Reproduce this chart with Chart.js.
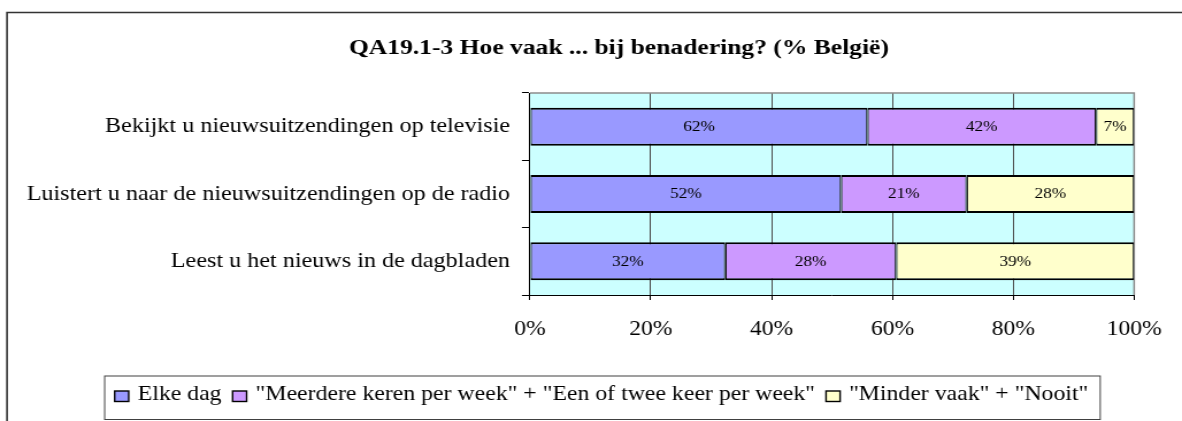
<!DOCTYPE html>
<html><head><meta charset="utf-8">
<script src="https://cdn.jsdelivr.net/npm/chart.js@4.4.1/dist/chart.umd.min.js"></script>
<style>
html,body{margin:0;padding:0;background:#fff;overflow:hidden;width:1182px;height:421px;}
#wrap{width:1028px;height:421px;transform:scaleX(1.14981);transform-origin:0 0;}
canvas{display:block;}
</style></head><body>
<div id="wrap"><canvas id="c" width="1028" height="421"></canvas></div>
<script>
// ---- data ----
const chartTitle = 'QA19.1-3 Hoe vaak ... bij benadering? (% België)';
const categories = [
  'Bekijkt u nieuwsuitzendingen op televisie',
  'Luistert u naar de nieuwsuitzendingen op de radio',
  'Leest u het nieuws in de dagbladen'
];
const seriesNames = [
  'Elke dag',
  '"Meerdere keren per week" + "Een of twee keer per week"',
  '"Minder vaak" + "Nooit"'
];
const elkeDag   = [62, 52, 32];
const wekelijks = [42, 21, 28];
const minder    = [7, 28, 39];
const xTicks = [0, 20, 40, 60, 80, 100];

// ---- styles ----
const colors = ['#9999FF', '#CC99FF', '#FFFFCC'];
const FONT = '"Liberation Serif", "Times New Roman", serif';
const W = 1028;

const rawSeries = [elkeDag, wekelijks, minder];
const totals = categories.map((_, i) => rawSeries.reduce((s, arr) => s + arr[i], 0));
// 100% stacked: each segment is its share of the category total
const shares = rawSeries.map(arr => arr.map((v, i) => v / totals[i] * 100));

const deco = {
  id: 'deco',
  beforeDraw(chart) {
    const {ctx, chartArea: a} = chart;
    ctx.save();
    ctx.fillStyle = '#CCFFFF';
    ctx.fillRect(a.left, a.top, a.right - a.left, a.bottom - a.top);
    // outer frame (left + top visible)
    ctx.strokeStyle = '#333';
    ctx.lineWidth = 1.6;
    ctx.beginPath();
    ctx.moveTo(6.1, 421); ctx.lineTo(6.1, 12.5); ctx.lineTo(W, 12.5);
    ctx.stroke();
    // title
    ctx.fillStyle = '#000';
    ctx.font = 'bold 20px ' + FONT;
    ctx.textAlign = 'center';
    ctx.textBaseline = 'alphabetic';
    const tw = ctx.measureText(chartTitle).width;
    const sx = 469.6 / tw;
    ctx.translate(538.3, 54);
    ctx.scale(sx, 1);
    ctx.fillText(chartTitle, 0, 0);
    ctx.restore();
  },
  beforeDatasetsDraw(chart) {
    const {ctx, chartArea: a} = chart;
    ctx.save();
    ctx.strokeStyle = '#8c8c8c';
    ctx.lineWidth = 1.5;
    ctx.beginPath();
    ctx.moveTo(a.left, a.top); ctx.lineTo(a.right, a.top); ctx.lineTo(a.right, a.bottom);
    ctx.stroke();
    ctx.restore();
  },
  afterDatasetsDraw(chart) {
    const {ctx} = chart;
    ctx.save();
    ctx.fillStyle = '#000';
    ctx.font = '15px ' + FONT;
    ctx.textAlign = 'center';
    ctx.textBaseline = 'middle';
    chart.data.datasets.forEach((ds, i) => {
      chart.getDatasetMeta(i).data.forEach((el, j) => {
        const cx = (el.x + el.base) / 2;
        ctx.fillText(rawSeries[i][j] + '%', cx, el.y + 0.5);
      });
    });
    ctx.restore();
  },
  afterDraw(chart) {
    const {ctx} = chart;
    ctx.save();
    ctx.font = '20.7px ' + FONT;
    const bw = 12.2, bh = 10.5, gapText = 7.8, gapItem = 9.6;
    const items = chart.data.datasets.map(ds => ({label: ds.label, color: ds.backgroundColor, w: ctx.measureText(ds.label).width}));
    let total = 0;
    items.forEach((it, i) => { total += bw + gapText + it.w + (i < items.length - 1 ? gapItem : 0); });
    const cx = 523.1;
    let x = cx - total / 2;
    const start = x;
    const baseY = 400;
    const boxTop = 391;
    items.forEach(it => {
      ctx.fillStyle = it.color;
      ctx.fillRect(x, boxTop, bw, bh);
      ctx.strokeStyle = '#000';
      ctx.lineWidth = 1.4;
      ctx.strokeRect(x, boxTop, bw, bh);
      x += bw + gapText;
      ctx.fillStyle = '#000';
      ctx.textAlign = 'left';
      ctx.textBaseline = 'alphabetic';
      ctx.fillText(it.label, x, baseY);
      x += it.w + gapItem;
    });
    const end = x - gapItem;
    ctx.strokeStyle = '#404040';
    ctx.lineWidth = 1;
    ctx.strokeRect(start - 8.7, 376, (end + 10.4) - (start - 8.7), 43.5);
    ctx.restore();
  }
};

new Chart(document.getElementById('c'), {
  type: 'bar',
  data: {
    labels: categories,
    datasets: seriesNames.map((name, i) => ({
      label: name,
      data: shares[i],
      backgroundColor: colors[i],
      borderColor: '#000',
      borderWidth: {top: 2, bottom: 2, left: 1.2, right: 1.2},
      borderSkipped: false,
      barPercentage: 0.565,
      categoryPercentage: 1
    }))
  },
  plugins: [deco],
  options: {
    indexAxis: 'y',
    responsive: false,
    animation: false,
    devicePixelRatio: 1,
    layout: {padding: {top: 93, right: 38.3, bottom: 80, left: 0}},
    plugins: {legend: {display: false}, title: {display: false}, tooltip: {enabled: false}},
    scales: {
      x: {
        type: 'linear', stacked: true, min: 0, max: 100,
        afterBuildTicks(s) { s.ticks = xTicks.map(v => ({value: v})); },
        grid: {color: '#4d4d4d', lineWidth: 1, drawTicks: true, tickLength: 5, tickColor: '#000'},
        border: {display: true, color: '#000', width: 1},
        ticks: {padding: 17.7, color: '#000', font: {family: FONT, size: 20.5}, maxRotation: 0, autoSkip: false,
          callback: v => v + '%'},
        afterFit(s) { s.height = 46; }
      },
      y: {
        type: 'category', stacked: true, offset: true,
        grid: {offset: true, drawOnChartArea: false, drawTicks: true, tickLength: 7, color: '#000', lineWidth: 1},
        border: {display: true, color: '#000', width: 1},
        ticks: {padding: 10.3, color: '#000', font: {family: FONT, size: 21}},
        afterFit(s) { s.width = 460.9; }
      }
    }
  }
});
</script>
</body></html>
